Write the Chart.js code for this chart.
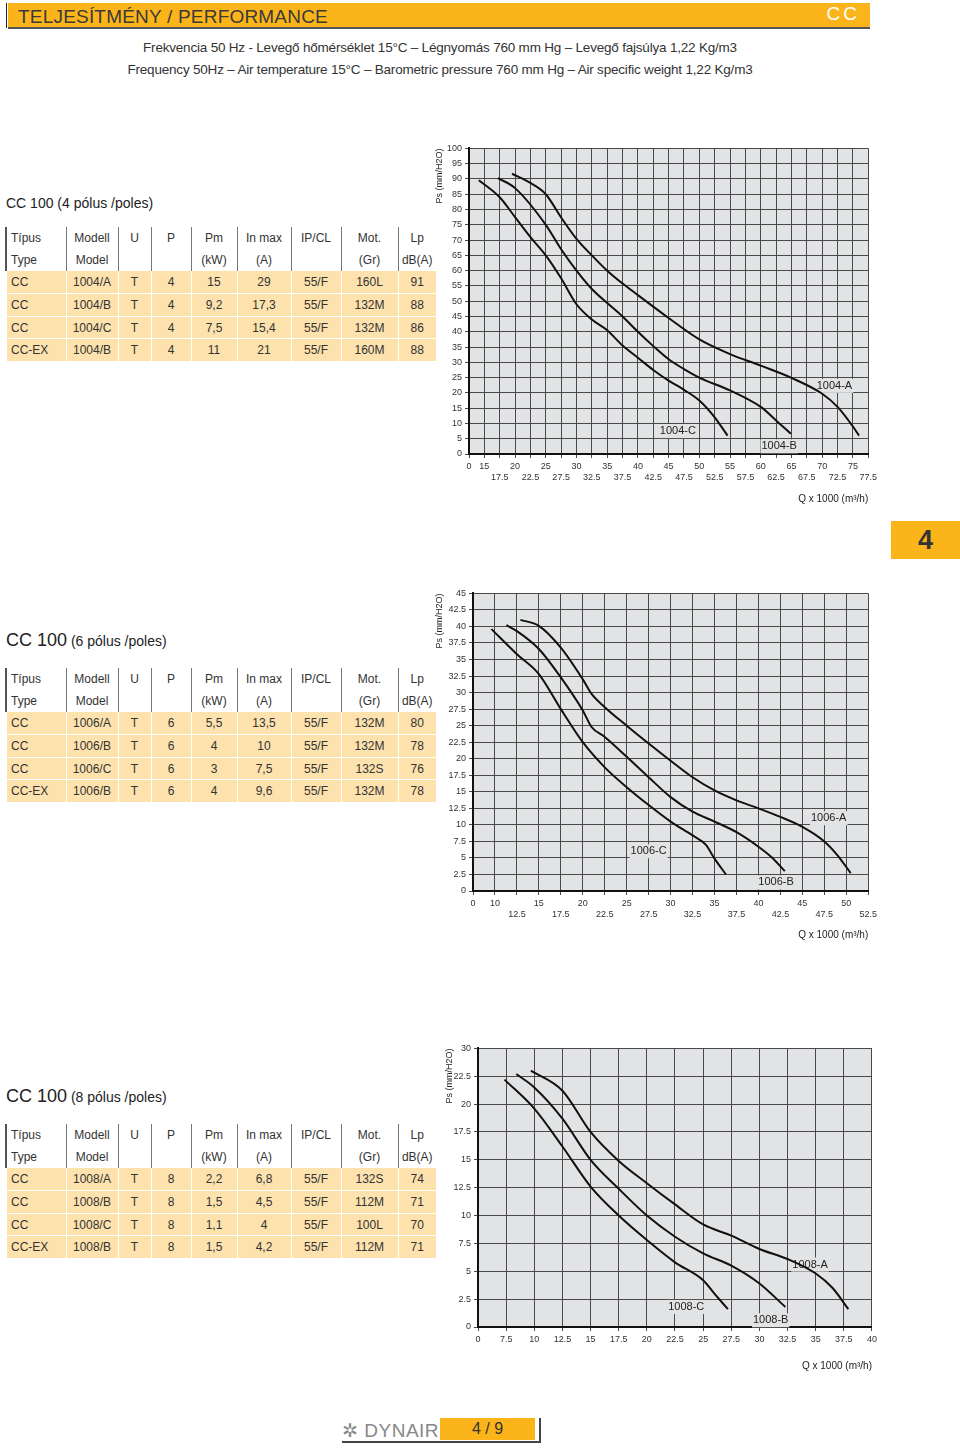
<!DOCTYPE html>
<html><head><meta charset="utf-8">
<script src="https://cdn.jsdelivr.net/npm/chart.js@4"></script>
<style>
body{margin:0;width:960px;height:1450px;position:relative;background:#fff;font-family:'Liberation Sans',Arial,sans-serif;color:#222;overflow:hidden}
.abs{position:absolute}
.hdr{left:8px;top:3px;width:862px;height:24px;background:#fbb51a;border-bottom:2px solid #555}
.hdr .t{position:absolute;left:10px;top:3px;font-size:19px;color:#3a3a3a;letter-spacing:0.2px}
.hdr .cc{position:absolute;right:10px;top:0px;font-size:19px;color:#fff;letter-spacing:3px}
.vline{left:6px;top:3px;width:1px;height:25px;background:#222}
.sub{left:0;width:880px;text-align:center;font-size:13.5px;color:#333;letter-spacing:-0.2px}
.sec{left:6px;font-size:14px;color:#222}
table{position:absolute;left:5px;width:430px;border-collapse:collapse;font-size:12px;color:#333;table-layout:fixed}
td{height:21.7px;text-align:center;padding:0;border-left:1px solid #777;white-space:nowrap}
td:first-child{text-align:left;padding-left:4px;border-left:2px solid #555}
tr.d td{background:#fde2ad;border-left:1px solid #fff;border-top:1px solid #fff}
tr.d td:first-child{border-left:2px solid #fff}
tr.h td{background:#fff}
.tab{left:891px;top:521px;width:69px;height:38px;background:#fbb51a;font-weight:bold;font-size:27px;text-align:center;line-height:38px;color:#333}
.cv{position:absolute;left:430px;width:450px}
</style></head><body>
<div class="abs vline"></div>
<div class="abs hdr"><span class="t">TELJESÍTMÉNY / PERFORMANCE</span><span class="cc">CC</span></div>
<div class="abs sub" style="top:40px">Frekvencia 50 Hz - Levegő hőmérséklet 15°C – Légnyomás 760 mm Hg – Levegő fajsúlya 1,22 Kg/m3</div>
<div class="abs sub" style="top:62px">Frequency 50Hz – Air temperature 15°C – Barometric pressure 760 mm Hg – Air specific weight 1,22 Kg/m3</div>

<div class="abs sec" style="top:195px">CC 100 (4 pólus /poles)</div>
<div class="abs sec" style="top:630px"><span style="font-size:18px">CC 100</span> (6 pólus /poles)</div>
<div class="abs sec" style="top:1086px"><span style="font-size:18px">CC 100</span> (8 pólus /poles)</div>

<table id="t1" style="top:227px"></table>
<table id="t2" style="top:668px"></table>
<table id="t3" style="top:1124px"></table>

<div class="abs tab">4</div>

<div class="cv" style="top:140px;height:365px"><canvas id="c1"></canvas></div>
<div class="cv" style="top:585px;height:356px"><canvas id="c2"></canvas></div>
<div class="cv" style="top:1040px;height:332px"><canvas id="c3"></canvas></div>

<div class="abs" style="left:342px;top:1419px;font-size:19px;color:#888;letter-spacing:0.5px">✲ DYNAIR</div>
<div class="abs" style="left:440px;top:1418px;width:95px;height:22px;background:#fbb51a;text-align:center;font-size:16px;line-height:22px;color:#333">4 / 9</div>
<div class="abs" style="left:342px;top:1441px;width:198px;height:2px;background:#444"></div>
<div class="abs" style="left:539px;top:1418px;width:2px;height:25px;background:#444"></div>

<script>
// ---- table data ----
const headRow1 = ['Típus','Modell','U','P','Pm','In max','IP/CL','Mot.','Lp'];
const headRow2 = ['Type','Model','','','(kW)','(A)','','(Gr)','dB(A)'];
const rows4 = [['CC','1004/A','T','4','15','29','55/F','160L','91'],['CC','1004/B','T','4','9,2','17,3','55/F','132M','88'],['CC','1004/C','T','4','7,5','15,4','55/F','132M','86'],['CC-EX','1004/B','T','4','11','21','55/F','160M','88']];
const rows6 = [['CC','1006/A','T','6','5,5','13,5','55/F','132M','80'],['CC','1006/B','T','6','4','10','55/F','132M','78'],['CC','1006/C','T','6','3','7,5','55/F','132S','76'],['CC-EX','1006/B','T','6','4','9,6','55/F','132M','78']];
const rows8 = [['CC','1008/A','T','8','2,2','6,8','55/F','132S','74'],['CC','1008/B','T','8','1,5','4,5','55/F','112M','71'],['CC','1008/C','T','8','1,1','4','55/F','100L','70'],['CC-EX','1008/B','T','8','1,5','4,2','55/F','112M','71']];
const colW = [60,52,33,40,46,54,50,57,38];

// ---- chart 1 (4 poles) ----
const q1004A = [19.5,22.5,25,27.5,30,32.5,35,37.5,40,45,50,55,60,65,70,72.5,75,76];
const p1004A = [91.7,88.7,85,77.4,70.4,65,60,55.8,52,44.5,37.5,32.7,28.9,24.9,19.7,15.4,9,6];
const q1004B = [17.2,20,25,27.5,30,32.5,35,37.5,40,42.5,45,47.5,50,55,60,62.5,64.9];
const p1004B = [90.3,87,75,67,60,54,49.4,45,40,35.3,31,27.8,25,20.8,15.4,11,6.6];
const q1004C = [14.1,17.5,20,22.5,25,27.5,30,32.5,35,37.5,40,42.5,45,47.5,50,52.5,54.6];
const p1004C = [89.6,84,77.5,71,65,57.5,49,44,40.5,35.5,31.5,27.5,24,21,17.5,12,6];
const xTicks1 = ['0','15','17.5','20','22.5','25','27.5','30','32.5','35','37.5','40','42.5','45','47.5','50','52.5','55','57.5','60','62.5','65','67.5','70','72.5','75','77.5'];
const yTicks1 = ['0','5','10','15','20','25','30','35','40','45','50','55','60','65','70','75','80','85','90','95','100'];
const labels1 = [['1004-A',72,22.3],['1004-B',63,2.5],['1004-C',46.5,7.5]];

// ---- chart 2 (6 poles) ----
const q1006A = [12.9,15,17.5,20,21,22.5,25,27.5,30,32.5,35,37.5,40,42.5,45,47.5,49,50.5];
const p1006A = [41,40.1,36.8,32,29.8,27.8,25,22.3,19.7,17.2,15.2,13.7,12.5,11.2,9.7,7.5,5.4,2.7];
const q1006B = [11.3,12.5,15,17.5,20,21,22.5,25,27.5,30,32.5,35,37.5,40,41.5,43];
const p1006B = [40.2,39.3,36.6,32.3,27.3,24.8,23.3,20.3,17.2,14.2,12,10.5,8.9,6.7,5.1,3];
const q1006C = [9.6,12.5,15,17.5,20,22.5,25,27.5,30,32.5,34,35,36.3];
const p1006C = [39.6,35.8,32.8,27.5,22.5,18.7,15.7,13,10.5,8.4,7,4.9,2.5];
const xTicks2 = ['0','10','12.5','15','17.5','20','22.5','25','27.5','30','32.5','35','37.5','40','42.5','45','47.5','50','52.5'];
const yTicks2 = ['0','2.5','5','7.5','10','12.5','15','17.5','20','22.5','25','27.5','30','32.5','35','37.5','40','42.5','45'];
const labels2 = [['1006-A',48,11],['1006-B',42,1.3],['1006-C',27.5,6]];

// ---- chart 3 (8 poles) ----
const q1008A = [9.7,12.5,15,17.5,20,22.5,25,27.5,30,32.5,35,36.5,37.9];
const p1008A = [23,21.2,17.5,14.9,12.9,11,9.2,8.2,7,6.1,4.8,3.5,1.6];
const q1008B = [8.4,10,12.5,15,17.5,20,22.5,25,27.5,30,32.3];
const p1008B = [22.7,21.5,18.7,15,12.4,10,8.1,6.6,5.5,3.9,1.8];
const q1008C = [7.35,10,12.5,15,17.5,20,22.5,25,26,27.2];
const p1008C = [22.2,19.6,16.2,12.6,10,7.8,5.8,4.2,3,1.6];
const xTicks3 = ['0','7.5','10','12.5','15','17.5','20','22.5','25','27.5','30','32.5','35','37.5','40'];
const yTicks3 = ['0','2.5','5','7.5','10','12.5','15','17.5','20','22.5','30'];
const labels3 = [['1008-A',34.5,5.6],['1008-B',31,0.6],['1008-C',23.5,1.8]];

function fillTable(id, rows){
  const t=document.getElementById(id);
  let h='<colgroup>'+colW.map(w=>'<col style="width:'+w+'px">').join('')+'</colgroup>';
  h+='<tr class="h">'+headRow1.map(c=>'<td>'+c+'</td>').join('')+'</tr>';
  h+='<tr class="h">'+headRow2.map(c=>'<td>'+c+'</td>').join('')+'</tr>';
  rows.forEach(r=>{h+='<tr class="d">'+r.map(c=>'<td>'+c+'</td>').join('')+'</tr>';});
  t.innerHTML=h;
}
fillTable('t1',rows4);fillTable('t2',rows6);fillTable('t3',rows8);

const FONT="'Liberation Sans',Arial,sans-serif";
const bgPlugin={id:'bg',beforeDraw(c){const a=c.chartArea,x=c.ctx;x.save();x.fillStyle='#e2e3e4';x.fillRect(a.left,a.top,a.right-a.left,a.bottom-a.top);x.restore();}};
function labelPlugin(lbls){return {id:'lbl',beforeDatasetsDraw(c){const x=c.ctx;x.save();x.font='11px '+FONT;x.textAlign='center';x.textBaseline='middle';
  lbls.forEach(l=>{const px=c.scales.x.getPixelForValue(l[1]),py=c.scales.y.getPixelForValue(l[2]);const w=x.measureText(l[0]).width;x.fillStyle='#e2e3e4';x.fillRect(px-w/2-1,py-7,w+2,14);x.fillStyle='#222';x.fillText(l[0],px,py);});x.restore();}};}
function ds(q,p){return {data:q.map((v,i)=>({x:v,y:p[i]})),borderColor:'#111',borderWidth:2,pointRadius:0,cubicInterpolationMode:'monotone',fill:false};}

function make(id,sets,o){
  new Chart(document.getElementById(id),{type:'line',data:{datasets:sets},
  options:{responsive:true,maintainAspectRatio:false,animation:false,
   layout:{padding:{top:o.padTop,right:8,left:0,bottom:0}},
   plugins:{legend:{display:false},tooltip:{enabled:false}},
   scales:{
    x:{type:'linear',min:o.xmin,max:o.xmax,afterFit:s=>{s.height=o.xh;},
      afterBuildTicks:s=>{const t=[];for(let v=o.xmin;v<=o.xmax+1e-6;v+=2.5)t.push({value:v});s.ticks=t;},
      ticks:{autoSkip:false,maxRotation:0,font:{size:9,family:FONT},color:'#333',padding:3,
        callback:(v,i)=>{const lab=o.xt[i];if(!o.two)return lab;return (Math.abs(v%5)<1e-6||i===0)?[lab,'']:['',lab];}},
      grid:{color:'#4a4a4a',lineWidth:1,drawTicks:true,tickLength:4},
      border:{color:'#111',width:2},
      title:{display:true,text:'Q x 1000 (m³/h)',align:'end',font:{size:10,family:FONT},color:'#222',padding:{top:o.titlePad,bottom:0}}},
    y:{type:'linear',min:0,max:o.ymax,afterFit:s=>{s.width=o.yw;},
      afterBuildTicks:s=>{const t=[];for(let v=0;v<=o.ymax+1e-6;v+=o.ystep)t.push({value:v});s.ticks=t;},
      ticks:{autoSkip:false,font:{size:9,family:FONT},color:'#333',padding:3,callback:(v,i)=>o.yt[i]},
      grid:{color:'#4a4a4a',lineWidth:1,tickLength:4},
      border:{color:'#111',width:2},
      title:{display:true,text:'Ps (mm/H2O)',align:'end',font:{size:9,family:FONT},color:'#222',padding:{top:o.ytp,bottom:0}}}
   }},plugins:[bgPlugin,labelPlugin(o.labels)]});
}
make('c1',[ds(q1004A,p1004A),ds(q1004B,p1004B),ds(q1004C,p1004C)],
 {padTop:5,xmin:12.5,xmax:77.5,ymax:100,ystep:5,xt:xTicks1,yt:yTicks1,two:true,xh:51,yw:39,titlePad:2,ytp:4,labels:labels1});
make('c2',[ds(q1006A,p1006A),ds(q1006B,p1006B),ds(q1006C,p1006C)],
 {padTop:8,xmin:7.5,xmax:52.5,ymax:45,ystep:2.5,xt:xTicks2,yt:yTicks2,two:true,xh:50,yw:43,titlePad:8,ytp:4,labels:labels2});
make('c3',[ds(q1008A,p1008A),ds(q1008B,p1008B),ds(q1008C,p1008C)],
 {padTop:6,xmin:5,xmax:40,ymax:25,ystep:2.5,xt:xTicks3,yt:yTicks3,two:false,xh:45,yw:48,titlePad:14,ytp:14,labels:labels3});
</script>
</body></html>
